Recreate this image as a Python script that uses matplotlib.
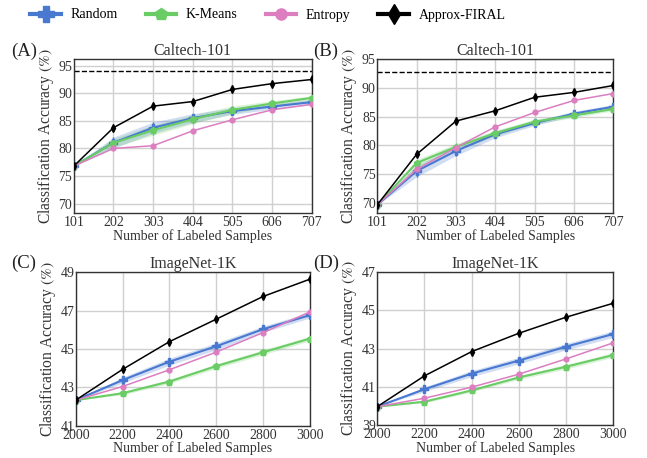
import matplotlib
matplotlib.use("Agg")
import matplotlib.pyplot as plt
import numpy as np

plt.rcParams['font.family'] = ['Liberation Serif', 'DejaVu Serif']
plt.rcParams['mathtext.fontset'] = 'stix'

# ---- data ----
caltech_x = [101, 202, 303, 404, 505, 606, 707]
imnet_x = [2000, 2200, 2400, 2600, 2800, 3000]

a_random = [76.8, 81.05, 83.76, 85.5, 86.77, 87.6, 88.4]
a_random_sd = [0.0, 1.0, 1.0, 0.8, 0.6, 0.5, 0.5]
a_kmeans = [76.8, 81.0, 83.3, 85.3, 87.0, 88.15, 89.17]
a_kmeans_sd = [0.0, 0.8, 0.9, 0.8, 0.7, 0.5, 0.4]
a_entropy = [76.8, 80.0, 80.5, 83.2, 85.2, 87.0, 88.0]
a_firal = [76.8, 83.76, 87.67, 88.5, 90.7, 91.75, 92.5]
a_full = 94.1

b_random = [69.6, 75.5, 79.0, 81.9, 83.85, 85.5, 86.7]
b_random_sd = [0.0, 1.0, 0.8, 0.6, 0.4, 0.4, 0.4]
b_kmeans = [69.6, 76.9, 79.7, 82.1, 84.1, 85.2, 86.3]
b_kmeans_sd = [0.0, 0.6, 0.6, 0.5, 0.4, 0.4, 0.3]
b_entropy = [69.6, 75.8, 79.6, 83.2, 85.7, 87.8, 89.0]
b_firal = [69.6, 78.4, 84.2, 86.0, 88.35, 89.2, 90.4]
b_full = 92.8

c_random = [42.34, 43.38, 44.34, 45.14, 46.03, 46.76]
c_random_sd = [0.0, 0.15, 0.18, 0.18, 0.16, 0.15]
c_kmeans = [42.34, 42.7, 43.31, 44.11, 44.83, 45.54]
c_kmeans_sd = [0.0, 0.08, 0.1, 0.12, 0.12, 0.12]
c_entropy = [42.34, 43.05, 43.92, 44.84, 45.85, 46.93]
c_firal = [42.34, 43.94, 45.38, 46.55, 47.73, 48.63]

d_random = [39.96, 40.87, 41.69, 42.37, 43.1, 43.76]
d_random_sd = [0.0, 0.12, 0.16, 0.17, 0.17, 0.17]
d_kmeans = [39.96, 40.22, 40.81, 41.49, 42.05, 42.66]
d_kmeans_sd = [0.0, 0.06, 0.08, 0.1, 0.12, 0.12]
d_entropy = [39.96, 40.4, 40.98, 41.66, 42.46, 43.3]
d_firal = [39.96, 41.57, 42.84, 43.8, 44.64, 45.37]

C_RANDOM = '#4878d0'
C_KMEANS = '#6acc64'
C_ENTROPY = '#dc7ec0'
C_FIRAL = 'black'
TXT = '#333333'


def draw_panel(ax, x, rnd, rnd_sd, km, km_sd, ent, firal, full, title,
               ylim, yticks, errbars):
    x = np.asarray(x)
    rnd, rnd_sd = np.asarray(rnd), np.asarray(rnd_sd)
    km, km_sd = np.asarray(km), np.asarray(km_sd)
    ax.fill_between(x, rnd - rnd_sd, rnd + rnd_sd, color=C_RANDOM,
                    alpha=0.25, lw=0)
    ax.fill_between(x, km - km_sd, km + km_sd, color=C_KMEANS,
                    alpha=0.25, lw=0)
    ax.plot(x, rnd, color=C_RANDOM, marker='P', ms=6, lw=1.5, zorder=4)
    ax.plot(x, km, color=C_KMEANS, marker='p', ms=5, lw=1.5, zorder=4)
    if errbars:
        ax.errorbar(x, rnd, yerr=rnd_sd, fmt='none', ecolor=C_RANDOM,
                    elinewidth=1.0, zorder=3)
        ax.errorbar(x, km, yerr=km_sd, fmt='none', ecolor=C_KMEANS,
                    elinewidth=1.0, zorder=3)
    ax.plot(x, ent, color=C_ENTROPY, marker='o', ms=3.5, lw=1.1, zorder=4)
    ax.plot(x, firal, color=C_FIRAL, marker='d', ms=4, lw=1.1, zorder=5)
    if full is not None:
        ax.axhline(full, color='black', ls='--', lw=1.0)
    ax.set_xlim(x[0], x[-1])
    ax.set_xticks(x)
    ax.set_ylim(*ylim)
    ax.set_yticks(yticks)
    ax.grid(True, color='#d0d0d0', lw=1.0)
    ax.set_axisbelow(True)
    ax.tick_params(labelsize=10, length=0, pad=1, colors=TXT)
    ax.tick_params(axis='x', pad=2)
    for s in ax.spines.values():
        s.set_color(TXT)
        s.set_linewidth(1.0)
    ax.set_title(title, fontsize=11.5, color=TXT, pad=3)
    ax.set_xlabel('Number of Labeled Samples', fontsize=10, color=TXT,
                  labelpad=0)
    ax.set_ylabel('Classification Accuracy $(\\%)$', fontsize=11.2,
                  color=TXT, labelpad=2)


fig = plt.figure(figsize=(6.47, 4.58), dpi=100)
ax_a = fig.add_axes([0.114, 0.535, 0.368, 0.336])
ax_b = fig.add_axes([0.583, 0.535, 0.365, 0.336])
ax_c = fig.add_axes([0.117, 0.070, 0.362, 0.336])
ax_d = fig.add_axes([0.583, 0.072, 0.365, 0.334])

draw_panel(ax_a, caltech_x, a_random, a_random_sd, a_kmeans, a_kmeans_sd,
           a_entropy, a_firal, a_full, 'Caltech-101',
           (68.3, 96.2), [70, 75, 80, 85, 90, 95], True)
draw_panel(ax_b, caltech_x, b_random, b_random_sd, b_kmeans, b_kmeans_sd,
           b_entropy, b_firal, b_full, 'Caltech-101',
           (68.2, 95), [70, 75, 80, 85, 90, 95], True)
draw_panel(ax_c, imnet_x, c_random, c_random_sd, c_kmeans, c_kmeans_sd,
           c_entropy, c_firal, None, 'ImageNet-1K',
           (41, 49), [41, 43, 45, 47, 49], False)
draw_panel(ax_d, imnet_x, d_random, d_random_sd, d_kmeans, d_kmeans_sd,
           d_entropy, d_firal, None, 'ImageNet-1K',
           (39, 47), [39, 41, 43, 45, 47], False)

# panel letters
for letter, (px, py) in zip(['(A)', '(B)', '(C)', '(D)'],
                            [(11, 56), (313, 56), (11, 268), (313, 268)]):
    fig.text(px / 647, 1 - py / 458, letter, fontsize=13.5, color='#222222',
             ha='left', va='baseline')

handles = [
    plt.Line2D([], [], color=C_RANDOM, marker='P', ms=11, lw=3),
    plt.Line2D([], [], color=C_KMEANS, marker='p', ms=9, lw=3),
    plt.Line2D([], [], color=C_ENTROPY, marker='o', ms=8, lw=3),
    plt.Line2D([], [], color=C_FIRAL, marker='d', ms=10, lw=3),
]
fig.legend(handles, ['Random', 'K-Means', 'Entropy', 'Approx-FIRAL'],
           loc='center', bbox_to_anchor=(268 / 647, 1 - 15 / 458), ncol=4,
           frameon=False, fontsize=10, handlelength=2.2, columnspacing=2.0,
           handletextpad=0.7, borderpad=0)

fig.savefig('out.png', dpi=100)
